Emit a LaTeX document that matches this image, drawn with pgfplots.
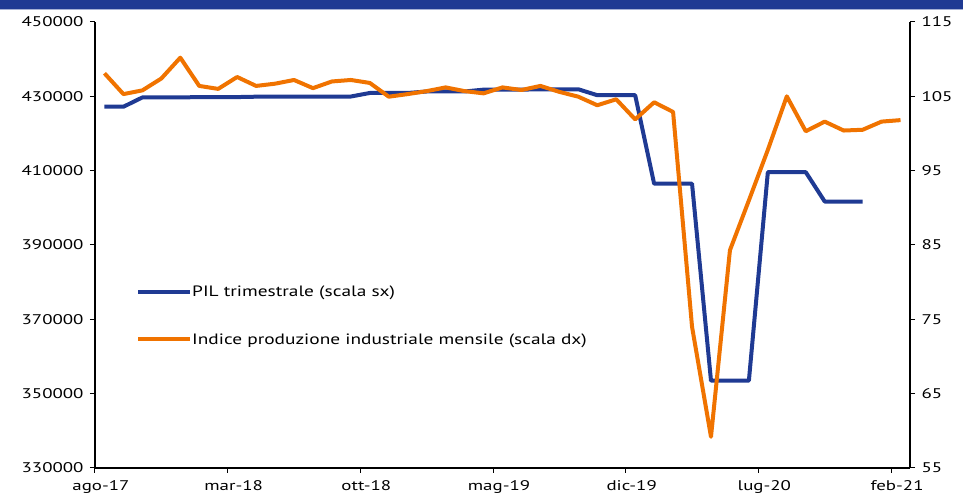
\documentclass[border=0pt]{standalone}
\usepackage{pgfplots}
\usepackage{pgfplotstable}
\usepackage{graphicx}
\usepackage{fontspec}
\setmainfont{PT Sans}
\pgfplotsset{compat=1.18}
\definecolor{pilblue}{HTML}{1F3A93}
\definecolor{ipiorange}{HTML}{F07300}
\newcommand\tk[1]{\scalebox{1.35}[1]{#1}}
\newcommand\lgd[1]{\scalebox{1.29}[1]{#1}}

\pgfplotstableread{
v
427200
427200
429700
429700
429700
429800
429800
429800
429900
429900
429900
429950
429950
429950
430900
430900
430900
431300
431300
431300
431800
431800
431800
431900
431900
431900
430300
430300
430300
406500
406500
406500
353500
353500
353500
409600
409600
409600
401700
401700
401700
}\pil

\pgfplotstableread{
v
108.1
105.3
105.8
107.4
110.2
106.4
106.0
107.6
106.4
106.7
107.2
106.1
107.0
107.2
106.8
104.95
105.3
105.7
106.2
105.7
105.4
106.2
105.85
106.4
105.6
104.95
103.8
104.6
101.9
104.2
102.9
74.0
59.2
84.3
91.0
97.8
105.0
100.3
101.6
100.4
100.5
101.6
101.8
}\ipi

\begin{document}
\begin{tikzpicture}
\useasboundingbox (-95pt,-32pt) rectangle (868pt,468pt);
\fill[pilblue] (-95pt,459pt) rectangle (868pt,468pt);
\fill[pilblue!40] (-95pt,457.5pt) rectangle (868pt,459pt);
\begin{axis}[
  at={(0pt,0pt)}, anchor=south west,
  scale only axis, width=815pt, height=446pt,
  xmin=0, xmax=43, ymin=330000, ymax=450000,
  scaled y ticks=false,
  axis x line*=bottom, axis y line*=left,
  axis line style={-, line width=1.2pt},
  tick align=outside, major tick length=5pt,
  tick style={black, line width=1pt},
  xtick={0,7,14,21,28,35,42},
  xticklabels={\tk{ago-17},\tk{mar-18},\tk{ott-18},\tk{mag-19},\tk{dic-19},\tk{lug-20},\tk{feb-21}},
  xticklabel style={font=\fontsize{14}{16}\selectfont, xshift=6pt, yshift=-4pt},
  ytick={330000,350000,370000,390000,410000,430000,450000},
  yticklabels={\tk{330000},\tk{350000},\tk{370000},\tk{390000},\tk{410000},\tk{430000},\tk{450000}},
  yticklabel style={font=\fontsize{14}{16}\selectfont, xshift=-3pt},
  legend style={at={(38pt,186pt)}, anchor=north west, draw=none, fill=none,
    font=\fontsize{15}{17}\selectfont, row sep=31pt,
    nodes={inner xsep=0pt}},
  legend cell align=left,
  legend image code/.code={\draw[#1, line width=4pt] (0pt,0pt) -- (52pt,0pt);},
]
\addplot[pilblue, line width=4pt, line join=round] table[x expr=\coordindex+0.5, y=v] {\pil};
\addlegendentry{\lgd{PIL trimestrale (scala sx)}}
\addlegendimage{ipiorange, line width=4pt}
\addlegendentry{\lgd{Indice produzione industriale mensile (scala dx)}}
\end{axis}
\begin{axis}[
  at={(0pt,0pt)}, anchor=south west,
  scale only axis, width=815pt, height=446pt,
  xmin=0, xmax=43, ymin=55, ymax=115,
  axis x line=none, axis y line*=right,
  axis line style={-, line width=1.2pt},
  tick align=outside, major tick length=5pt,
  tick style={black, line width=1pt},
  ytick={55,65,75,85,95,105,115},
  yticklabels={\tk{55},\tk{65},\tk{75},\tk{85},\tk{95},\tk{105},\tk{115}},
  yticklabel style={font=\fontsize{14}{16}\selectfont, xshift=3pt},
]
\addplot[ipiorange, line width=4pt, line join=round] table[x expr=\coordindex+0.5, y=v] {\ipi};
\end{axis}
\end{tikzpicture}
\end{document}
